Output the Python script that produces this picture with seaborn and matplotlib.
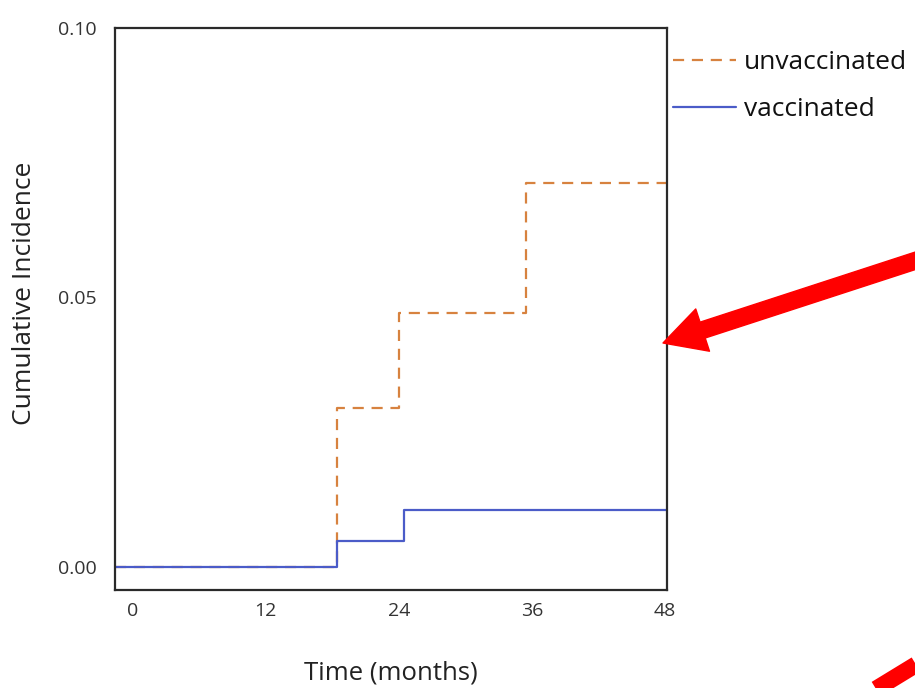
import matplotlib
matplotlib.use("Agg")
import matplotlib.pyplot as plt
import seaborn as sns
import pandas as pd
from matplotlib.patches import FancyArrowPatch
from matplotlib.lines import Line2D

# step curves (months, cumulative incidence)
time_unvacc = [-1.6, 18.4, 24.0, 35.5, 48.2]
inc_unvacc = [0.0, 0.0294, 0.0472, 0.0713, 0.0713]
time_vacc = [-1.6, 18.4, 24.5, 48.2]
inc_vacc = [0.0, 0.0048, 0.0106, 0.0106]

x_ticks = [0, 12, 24, 36, 48]
y_ticks = [0.00, 0.05, 0.10]
y_ticklabels = ["0.00", "0.05", "0.10"]

sns.set_style("white")
plt.rcParams["font.family"] = ["Open Sans", "DejaVu Sans"]

df_u = pd.DataFrame({"Time": time_unvacc, "Incidence": inc_unvacc})
df_v = pd.DataFrame({"Time": time_vacc, "Incidence": inc_vacc})

fig = plt.figure(figsize=(9.15, 6.88), dpi=100)
ax = fig.add_axes([115 / 915, 1 - 590 / 688, (667 - 115) / 915, (590 - 28) / 688])

orange = "#D7823F"
blue = "#4B5CC8"

sns.lineplot(data=df_u, x="Time", y="Incidence", ax=ax, color=orange,
             drawstyle="steps-post", linewidth=1.6)
ax.lines[-1].set_dashes((5, 3.5))
sns.lineplot(data=df_v, x="Time", y="Incidence", ax=ax, color=blue,
             drawstyle="steps-post", linewidth=1.6)

ax.set_xlim(-1.6, 48.2)
ax.set_ylim(-0.0043, 0.1)
ax.set_xticks(x_ticks)
ax.set_yticks(y_ticks)
ax.set_yticklabels(y_ticklabels)
ax.tick_params(length=0, labelsize=14, labelcolor="#333333")
ax.tick_params(axis="x", pad=9)
ax.tick_params(axis="y", pad=13)

for s in ax.spines.values():
    s.set_visible(True)
    s.set_color("#2a2a2a")
    s.set_linewidth(1.6)

ax.set_xlabel("Time (months)", fontsize=18.5, color="#222222", labelpad=29)
ax.set_ylabel("Cumulative Incidence", fontsize=19, color="#222222", labelpad=15, y=0.528)

handles = [
    Line2D([], [], color=orange, linewidth=1.6, dashes=(5, 3.5)),
    Line2D([], [], color=blue, linewidth=1.6),
]
ax.legend(handles, ["unvaccinated", "vaccinated"], loc="upper left",
          bbox_to_anchor=(673 / 915, 1 - 50 / 688), bbox_transform=fig.transFigure,
          frameon=False, fontsize=19, handlelength=2.4, handletextpad=0.3,
          labelspacing=0.85, borderpad=0, borderaxespad=0, labelcolor="#111111")

# red annotation arrows laid over the figure
arrow = FancyArrowPatch((930 / 915, 1 - 256 / 688), (663 / 915, 1 - 343 / 688),
                        transform=fig.transFigure, color="#FF0000",
                        arrowstyle="simple,head_width=32,head_length=30,tail_width=12",
                        mutation_scale=1, shrinkA=0, shrinkB=0)
fig.add_artist(arrow)
fig.add_artist(Line2D([858 / 915, 935 / 915], [1 - 700 / 688, 1 - 653 / 688],
                      transform=fig.transFigure, color="#FF0000", linewidth=12,
                      solid_capstyle="butt"))

fig.savefig("out.png", dpi=100)
